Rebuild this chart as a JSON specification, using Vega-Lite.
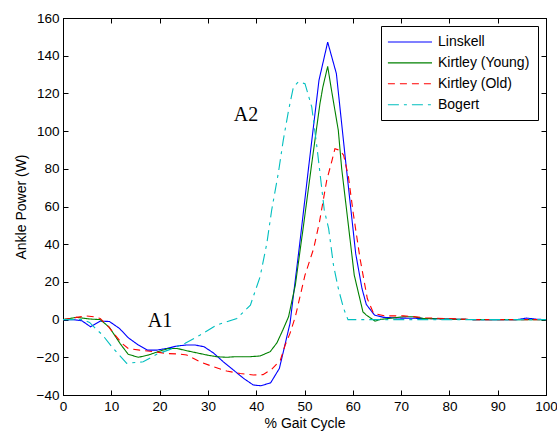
{
  "$schema": "https://vega.github.io/schema/vega-lite/v6.json",
  "width": 483,
  "height": 377,
  "autosize": {"type": "none"},
  "padding": {"left": 63, "top": 18, "right": 11, "bottom": 36},
  "background": "white",
  "config": {
    "view": {"stroke": "black", "strokeWidth": 1},
    "axis": {
      "domainColor": "black", "tickColor": "black", "labelColor": "black", "titleColor": "black",
      "labelFont": "Liberation Sans", "titleFont": "Liberation Sans",
      "labelFontSize": 13.5, "titleFontSize": 14, "titleFontWeight": "normal",
      "grid": false, "tickSize": -5, "labelPadding": 9
    }
  },
  "datasets": {
    "curves": [
      {"series": "Linskell", "x": 0, "y": 0}, {"series": "Linskell", "x": 2, "y": 0}, {"series": "Linskell", "x": 3.9, "y": -0.6}, {"series": "Linskell", "x": 5.7, "y": -3.8}, {"series": "Linskell", "x": 7.7, "y": -0.8}, {"series": "Linskell", "x": 9.6, "y": -1}, {"series": "Linskell", "x": 11.7, "y": -4.7}, {"series": "Linskell", "x": 13.5, "y": -9.6}, {"series": "Linskell", "x": 15.6, "y": -13.5}, {"series": "Linskell", "x": 17.5, "y": -16.2}, {"series": "Linskell", "x": 19.4, "y": -16.2}, {"series": "Linskell", "x": 21.5, "y": -15.3}, {"series": "Linskell", "x": 23.6, "y": -14}, {"series": "Linskell", "x": 25.5, "y": -13.5}, {"series": "Linskell", "x": 27.4, "y": -13.5}, {"series": "Linskell", "x": 29.2, "y": -14.4}, {"series": "Linskell", "x": 31.1, "y": -17.6}, {"series": "Linskell", "x": 33.2, "y": -22.4}, {"series": "Linskell", "x": 35.3, "y": -26.8}, {"series": "Linskell", "x": 37.4, "y": -31.2}, {"series": "Linskell", "x": 39.4, "y": -34.7}, {"series": "Linskell", "x": 41, "y": -35.1}, {"series": "Linskell", "x": 43, "y": -33.5}, {"series": "Linskell", "x": 44.8, "y": -25.9}, {"series": "Linskell", "x": 47, "y": -2}, {"series": "Linskell", "x": 49, "y": 40}, {"series": "Linskell", "x": 51, "y": 84}, {"series": "Linskell", "x": 53, "y": 127}, {"series": "Linskell", "x": 54.8, "y": 147.2}, {"series": "Linskell", "x": 56.6, "y": 130.5}, {"series": "Linskell", "x": 58.6, "y": 82}, {"series": "Linskell", "x": 60.6, "y": 35}, {"series": "Linskell", "x": 61.9, "y": 16.5}, {"series": "Linskell", "x": 62.8, "y": 8}, {"series": "Linskell", "x": 64.5, "y": 2.4}, {"series": "Linskell", "x": 66.4, "y": 1.2}, {"series": "Linskell", "x": 70, "y": 0.8}, {"series": "Linskell", "x": 75, "y": 0.6}, {"series": "Linskell", "x": 80, "y": 0.3}, {"series": "Linskell", "x": 85, "y": 0}, {"series": "Linskell", "x": 90, "y": 0}, {"series": "Linskell", "x": 94, "y": 0}, {"series": "Linskell", "x": 96, "y": 0.8}, {"series": "Linskell", "x": 98, "y": 0.2}, {"series": "Linskell", "x": 100, "y": 0},
      {"series": "Kirtley (Young)", "x": 0, "y": 0}, {"series": "Kirtley (Young)", "x": 2.8, "y": 1.2}, {"series": "Kirtley (Young)", "x": 5.6, "y": 0.3}, {"series": "Kirtley (Young)", "x": 7.7, "y": 0}, {"series": "Kirtley (Young)", "x": 9.6, "y": -4.1}, {"series": "Kirtley (Young)", "x": 11.9, "y": -13}, {"series": "Kirtley (Young)", "x": 13.5, "y": -18.4}, {"series": "Kirtley (Young)", "x": 15.6, "y": -20}, {"series": "Kirtley (Young)", "x": 17.7, "y": -18.8}, {"series": "Kirtley (Young)", "x": 19.7, "y": -17}, {"series": "Kirtley (Young)", "x": 21.8, "y": -15.3}, {"series": "Kirtley (Young)", "x": 23.6, "y": -15.3}, {"series": "Kirtley (Young)", "x": 25.6, "y": -16.5}, {"series": "Kirtley (Young)", "x": 27.6, "y": -17.6}, {"series": "Kirtley (Young)", "x": 29.8, "y": -18.8}, {"series": "Kirtley (Young)", "x": 31.9, "y": -19.7}, {"series": "Kirtley (Young)", "x": 33.8, "y": -20}, {"series": "Kirtley (Young)", "x": 35.6, "y": -19.7}, {"series": "Kirtley (Young)", "x": 38.7, "y": -19.7}, {"series": "Kirtley (Young)", "x": 40.8, "y": -19.3}, {"series": "Kirtley (Young)", "x": 42.9, "y": -17}, {"series": "Kirtley (Young)", "x": 44.3, "y": -12.3}, {"series": "Kirtley (Young)", "x": 45.5, "y": -5.6}, {"series": "Kirtley (Young)", "x": 46.7, "y": 1.5}, {"series": "Kirtley (Young)", "x": 48.1, "y": 18.3}, {"series": "Kirtley (Young)", "x": 49.8, "y": 50}, {"series": "Kirtley (Young)", "x": 51.5, "y": 82.8}, {"series": "Kirtley (Young)", "x": 53.2, "y": 114.6}, {"series": "Kirtley (Young)", "x": 53.8, "y": 123.4}, {"series": "Kirtley (Young)", "x": 54.8, "y": 134.3}, {"series": "Kirtley (Young)", "x": 55.6, "y": 121.6}, {"series": "Kirtley (Young)", "x": 57, "y": 100.4}, {"series": "Kirtley (Young)", "x": 57.7, "y": 80.1}, {"series": "Kirtley (Young)", "x": 58.8, "y": 56.3}, {"series": "Kirtley (Young)", "x": 60.3, "y": 23.6}, {"series": "Kirtley (Young)", "x": 62.1, "y": 4.1}, {"series": "Kirtley (Young)", "x": 62.8, "y": 2.4}, {"series": "Kirtley (Young)", "x": 64.6, "y": -0.8}, {"series": "Kirtley (Young)", "x": 65.7, "y": 0.1}, {"series": "Kirtley (Young)", "x": 70.5, "y": 1.5}, {"series": "Kirtley (Young)", "x": 72.5, "y": 1.5}, {"series": "Kirtley (Young)", "x": 74.6, "y": 0.6}, {"series": "Kirtley (Young)", "x": 80, "y": 0.3}, {"series": "Kirtley (Young)", "x": 85, "y": 0}, {"series": "Kirtley (Young)", "x": 100, "y": 0},
      {"series": "Kirtley (Old)", "x": 0, "y": 0}, {"series": "Kirtley (Old)", "x": 2.8, "y": 1.2}, {"series": "Kirtley (Old)", "x": 4.9, "y": 1.9}, {"series": "Kirtley (Old)", "x": 6.5, "y": 1.5}, {"series": "Kirtley (Old)", "x": 7.7, "y": 0.6}, {"series": "Kirtley (Old)", "x": 9.5, "y": -4}, {"series": "Kirtley (Old)", "x": 10.8, "y": -8.2}, {"series": "Kirtley (Old)", "x": 12.2, "y": -12.6}, {"series": "Kirtley (Old)", "x": 13.5, "y": -15.3}, {"series": "Kirtley (Old)", "x": 15.9, "y": -16.2}, {"series": "Kirtley (Old)", "x": 18.7, "y": -17}, {"series": "Kirtley (Old)", "x": 21.5, "y": -18}, {"series": "Kirtley (Old)", "x": 24.2, "y": -18.3}, {"series": "Kirtley (Old)", "x": 25.6, "y": -18.8}, {"series": "Kirtley (Old)", "x": 28.4, "y": -22.4}, {"series": "Kirtley (Old)", "x": 31.1, "y": -25}, {"series": "Kirtley (Old)", "x": 33.9, "y": -27.3}, {"series": "Kirtley (Old)", "x": 36.7, "y": -28.6}, {"series": "Kirtley (Old)", "x": 39.4, "y": -29.4}, {"series": "Kirtley (Old)", "x": 41.4, "y": -29.2}, {"series": "Kirtley (Old)", "x": 43.2, "y": -26.4}, {"series": "Kirtley (Old)", "x": 45, "y": -21.5}, {"series": "Kirtley (Old)", "x": 46, "y": -13.5}, {"series": "Kirtley (Old)", "x": 47, "y": -7.3}, {"series": "Kirtley (Old)", "x": 48.1, "y": 1.5}, {"series": "Kirtley (Old)", "x": 50.1, "y": 23.6}, {"series": "Kirtley (Old)", "x": 51.9, "y": 37.7}, {"series": "Kirtley (Old)", "x": 53.1, "y": 51.8}, {"series": "Kirtley (Old)", "x": 54.6, "y": 73.9}, {"series": "Kirtley (Old)", "x": 55.7, "y": 84.5}, {"series": "Kirtley (Old)", "x": 56.3, "y": 90.7}, {"series": "Kirtley (Old)", "x": 57.3, "y": 89.8}, {"series": "Kirtley (Old)", "x": 58.1, "y": 87.2}, {"series": "Kirtley (Old)", "x": 59.1, "y": 75.7}, {"series": "Kirtley (Old)", "x": 60.1, "y": 56.3}, {"series": "Kirtley (Old)", "x": 61.5, "y": 32.4}, {"series": "Kirtley (Old)", "x": 63, "y": 11.2}, {"series": "Kirtley (Old)", "x": 64.3, "y": 3.3}, {"series": "Kirtley (Old)", "x": 66.6, "y": 2}, {"series": "Kirtley (Old)", "x": 70.5, "y": 2}, {"series": "Kirtley (Old)", "x": 75, "y": 1}, {"series": "Kirtley (Old)", "x": 80, "y": 0.5}, {"series": "Kirtley (Old)", "x": 85, "y": 0}, {"series": "Kirtley (Old)", "x": 100, "y": 0},
      {"series": "Bogert", "x": 0, "y": 0}, {"series": "Bogert", "x": 4, "y": 0}, {"series": "Bogert", "x": 5.5, "y": -1.5}, {"series": "Bogert", "x": 7.1, "y": -5.6}, {"series": "Bogert", "x": 8.2, "y": -8.2}, {"series": "Bogert", "x": 10.1, "y": -14.4}, {"series": "Bogert", "x": 13.2, "y": -23.2}, {"series": "Bogert", "x": 16.6, "y": -22.4}, {"series": "Bogert", "x": 19.4, "y": -18.4}, {"series": "Bogert", "x": 22.2, "y": -15.8}, {"series": "Bogert", "x": 25.3, "y": -12.6}, {"series": "Bogert", "x": 28.4, "y": -8.2}, {"series": "Bogert", "x": 31.8, "y": -2.9}, {"series": "Bogert", "x": 33.9, "y": -1.2}, {"series": "Bogert", "x": 36, "y": 0.6}, {"series": "Bogert", "x": 38.8, "y": 7.7}, {"series": "Bogert", "x": 40.8, "y": 22.7}, {"series": "Bogert", "x": 42.2, "y": 40.4}, {"series": "Bogert", "x": 43.2, "y": 58}, {"series": "Bogert", "x": 44.6, "y": 78}, {"series": "Bogert", "x": 45.6, "y": 95.1}, {"series": "Bogert", "x": 46.7, "y": 111}, {"series": "Bogert", "x": 47.7, "y": 123.4}, {"series": "Bogert", "x": 48.7, "y": 126}, {"series": "Bogert", "x": 50.1, "y": 125.2}, {"series": "Bogert", "x": 51.5, "y": 112.8}, {"series": "Bogert", "x": 52.6, "y": 91}, {"series": "Bogert", "x": 54.1, "y": 58}, {"series": "Bogert", "x": 55, "y": 48.3}, {"series": "Bogert", "x": 56, "y": 28.9}, {"series": "Bogert", "x": 57, "y": 16.5}, {"series": "Bogert", "x": 58.1, "y": 5.9}, {"series": "Bogert", "x": 59, "y": 0}, {"series": "Bogert", "x": 100, "y": 0}
    ],
    "labels": [
      {"label": "A1", "x": 20.1, "y": -0.8},
      {"label": "A2", "x": 37.9, "y": 108.4}
    ]
  },
  "layer": [
    {
      "data": {"name": "curves"},
      "mark": {"type": "line", "strokeWidth": 1.1, "clip": true},
      "encoding": {
        "x": {"field": "x", "type": "quantitative", "scale": {"domain": [0, 100], "nice": false, "zero": false},
              "axis": {"orient": "bottom", "values": [0, 10, 20, 30, 40, 50, 60, 70, 80, 90, 100], "title": "% Gait Cycle", "titlePadding": 4, "labelFlush": false}},
        "y": {"field": "y", "type": "quantitative", "scale": {"domain": [-40, 160], "nice": false, "zero": false},
              "axis": {"orient": "left", "values": [-40, -20, 0, 20, 40, 60, 80, 100, 120, 140, 160], "title": "Ankle Power (W)", "titlePadding": 8}},
        "color": {"field": "series", "type": "nominal",
                  "scale": {"domain": ["Linskell", "Kirtley (Young)", "Kirtley (Old)", "Bogert"], "range": ["#0000ff", "#008000", "#ff0000", "#00bfbf"]},
                  "legend": {"orient": "top-right", "offset": 8, "title": null, "strokeColor": "black", "fillColor": "white", "padding": 8,
                             "symbolType": "M-1.3,0H5", "symbolSize": 196, "symbolStrokeWidth": 1.1, "labelFont": "Liberation Sans", "labelFontSize": 14, "labelColor": "black", "labelOffset": 33, "rowPadding": 5.9, "labelLimit": 300}},
        "strokeDash": {"field": "series", "type": "nominal",
                  "scale": {"domain": ["Linskell", "Kirtley (Young)", "Kirtley (Old)", "Bogert"], "range": [[1, 0], [1, 0], [7, 5], [11, 5, 3, 5]]},
                  "legend": {"orient": "top-right", "offset": 8, "title": null, "strokeColor": "black", "fillColor": "white", "padding": 8,
                             "symbolType": "M-1.3,0H5", "symbolSize": 196, "symbolStrokeWidth": 1.1, "labelFont": "Liberation Sans", "labelFontSize": 14, "labelColor": "black", "labelOffset": 33, "rowPadding": 5.9, "labelLimit": 300}}
      }
    },
    {
      "data": {"name": "labels"},
      "mark": {"type": "text", "font": "Liberation Serif", "fontSize": 20, "color": "black", "align": "center", "baseline": "middle"},
      "encoding": {
        "x": {"field": "x", "type": "quantitative", "scale": {"domain": [0, 100], "nice": false, "zero": false},
              "axis": {"orient": "top", "values": [0, 10, 20, 30, 40, 50, 60, 70, 80, 90, 100], "labels": false, "title": null}},
        "y": {"field": "y", "type": "quantitative", "scale": {"domain": [-40, 160], "nice": false, "zero": false},
              "axis": {"orient": "right", "values": [-40, -20, 0, 20, 40, 60, 80, 100, 120, 140, 160], "labels": false, "title": null}},
        "text": {"field": "label"}
      }
    }
  ],
  "resolve": {"axis": {"x": "independent", "y": "independent"}}
}
